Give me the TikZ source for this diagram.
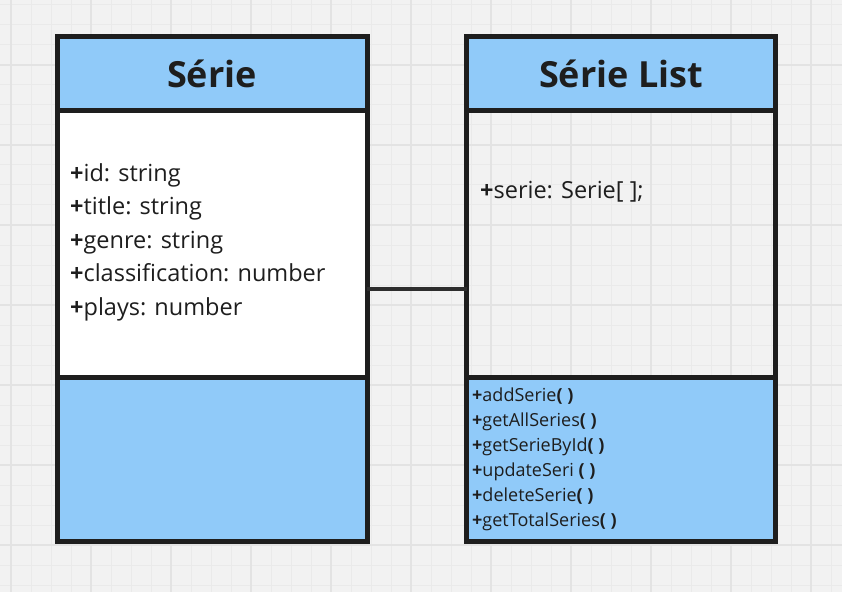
\documentclass[tikz,border=0pt]{standalone}
\usepackage{fontspec}
\setmainfont{Open Sans}
\definecolor{bg}{HTML}{F2F2F2}
\definecolor{gridminor}{HTML}{EAEAEA}
\definecolor{gridmajor}{HTML}{E3E3E3}
\definecolor{umlblue}{HTML}{90CAF9}
\definecolor{umlline}{HTML}{1E1E1E}
\definecolor{connline}{HTML}{2E2E2E}
\begin{document}
\begin{tikzpicture}[x=1bp,y=-1bp,
  part/.style={draw=umlline, line width=5bp, rectangle, inner sep=0pt, outer sep=0pt, anchor=north west, minimum width=310bp},
  headtxt/.style={font=\fontsize{36bp}{40bp}\selectfont\bfseries, text=umlline},
  attrtxt/.style={anchor=base west, inner sep=0pt, font=\fontsize{23.5bp}{28bp}\selectfont, text=umlline},
  optxt/.style={anchor=base west, inner sep=0pt, font=\fontsize{18bp}{21bp}\selectfont, text=umlline},
  conn/.style={draw=connline, line width=4bp}
]
\fill[bg] (0,0) rectangle (842,592);
\useasboundingbox (0,0) rectangle (842,592);
\foreach \x in {11,31,...,831} \draw[gridminor, line width=1bp] (\x,0) -- (\x,592);
\foreach \y in {5,25,...,585} \draw[gridminor, line width=1bp] (0,\y) -- (842,\y);
\foreach \x in {11,91,...,811} \draw[gridmajor, line width=1.5bp] (\x,0) -- (\x,592);
\foreach \y in {65,145,...,545} \draw[gridmajor, line width=1.5bp] (0,\y) -- (842,\y);

% Série class
\node[part, fill=umlblue, minimum height=73.5bp] (sh) at (57,37) {};
\node[part, fill=white, minimum height=266.5bp] (sa) at (57,110.5) {};
\node[part, fill=umlblue, minimum height=164bp] (so) at (57,377) {};
\node[headtxt] (sht) at (sh.center) {Série};

% Série List class
\node[part, fill=umlblue, minimum height=73.5bp, minimum width=309bp] (lh) at (466.5,37) {};
\node[part, minimum height=266.5bp, minimum width=309bp] (la) at (466.5,110.5) {};
\node[part, fill=umlblue, minimum height=164bp, minimum width=309bp] (lo) at (466.5,377) {};
\node[headtxt] (lht) at (lh.center) {Série List};

% attributes
\node[attrtxt] (a1) at (70,181.7) {\textbf{+}id: string};
\node[attrtxt] (a2) at (70,215) {\textbf{+}title: string};
\node[attrtxt] (a3) at (70,248.3) {\textbf{+}genre: string};
\node[attrtxt] (a4) at (70,281.6) {\textbf{+}classification: number};
\node[attrtxt] (a5) at (70,315) {\textbf{+}plays: number};

\node[attrtxt] (b1) at (480,198.3) {\textbf{+}serie: Serie[ ];};

% operations
\node[optxt] (o1) at (472,401.7) {\textbf{+}addSerie\textbf{( )}};
\node[optxt] (o2) at (472,426.7) {\textbf{+}getAllSeries\textbf{( )}};
\node[optxt] (o3) at (472,451.7) {\textbf{+}getSerieById\textbf{( )}};
\node[optxt] (o4) at (472,476.7) {\textbf{+}updateSeri \textbf{( )}};
\node[optxt] (o5) at (472,501.7) {\textbf{+}deleteSerie\textbf{( )}};
\node[optxt] (o6) at (472,526.7) {\textbf{+}getTotalSeries\textbf{( )}};

% connector
\coordinate (cy) at (0,288.7);
\draw[conn] (sa.east |- cy) -- (la.west |- cy);
\end{tikzpicture}
\end{document}
